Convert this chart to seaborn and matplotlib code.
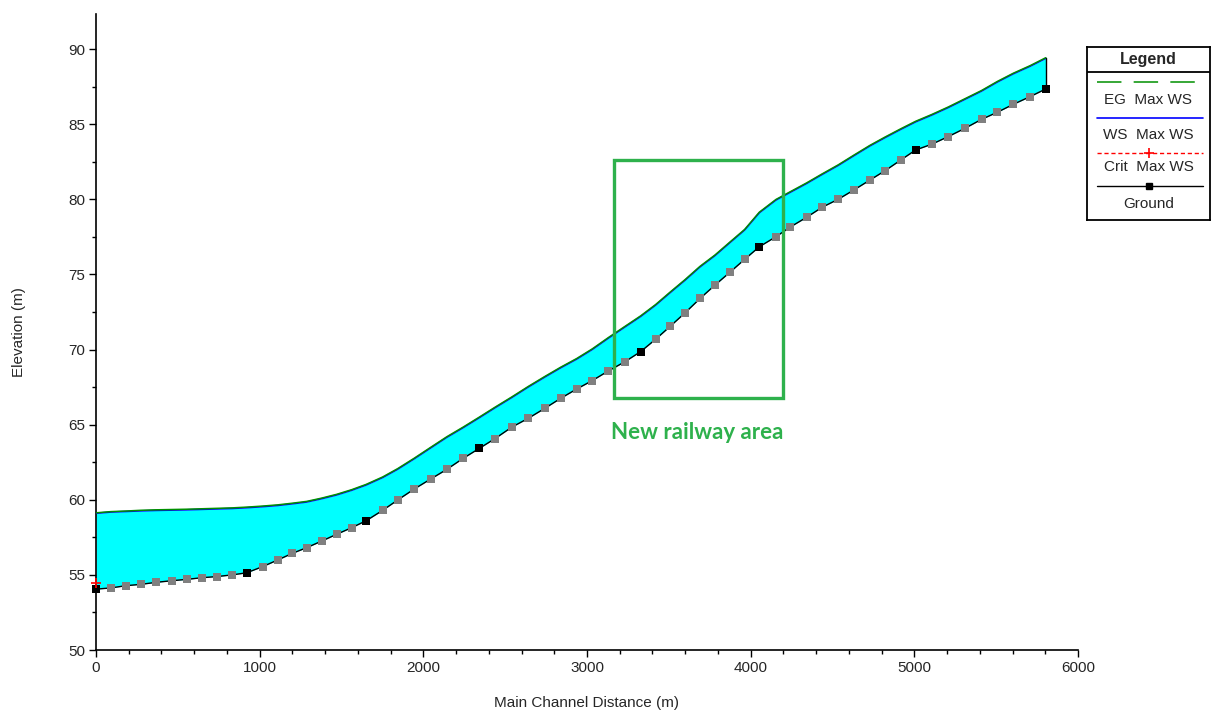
import matplotlib
matplotlib.use("Agg")
import matplotlib.pyplot as plt
from matplotlib.patches import Rectangle
from matplotlib.ticker import MultipleLocator
import seaborn as sns
import pandas as pd

# Main channel stations (m) of all cross sections, real and interpolated
station = [0, 90, 183, 275, 365, 462, 554, 646, 741, 833,
           921, 1018, 1110, 1199, 1287, 1379, 1470, 1562, 1650, 1752,
           1843, 1945, 2045, 2143, 2244, 2342, 2438, 2540, 2641, 2743,
           2839, 2937, 3032, 3130, 3232, 3328, 3419, 3510, 3600, 3691,
           3782, 3872, 3963, 4053, 4155, 4240, 4342, 4437, 4535, 4631,
           4729, 4821, 4917, 5008, 5106, 5207, 5309, 5411, 5507, 5605,
           5707, 5803]

# Channel invert (ground) elevation (m)
ground = [54.05, 54.13, 54.28, 54.37, 54.50, 54.61, 54.70, 54.81, 54.89, 55.00,
          55.14, 55.55, 55.99, 56.43, 56.81, 57.25, 57.70, 58.14, 58.60, 59.30,
          59.98, 60.72, 61.38, 62.02, 62.76, 63.42, 64.07, 64.83, 65.42, 66.09,
          66.75, 67.37, 67.93, 68.57, 69.19, 69.86, 70.68, 71.56, 72.45, 73.40,
          74.29, 75.13, 76.00, 76.84, 77.51, 78.14, 78.80, 79.47, 80.00, 80.62,
          81.28, 81.90, 82.61, 83.28, 83.66, 84.17, 84.72, 85.32, 85.79, 86.32,
          86.83, 87.34]

# Water surface, Max WS profile (m)
ws_max = [59.10, 59.18, 59.22, 59.26, 59.29, 59.31, 59.33, 59.36, 59.39, 59.42,
          59.47, 59.54, 59.62, 59.73, 59.85, 60.07, 60.32, 60.63, 60.98, 61.48,
          62.03, 62.73, 63.45, 64.15, 64.80, 65.46, 66.12, 66.80, 67.50, 68.17,
          68.78, 69.36, 70.00, 70.75, 71.50, 72.20, 72.95, 73.80, 74.62, 75.50,
          76.25, 77.10, 77.95, 79.10, 79.95, 80.45, 81.05, 81.65, 82.25, 82.90,
          83.55, 84.10, 84.65, 85.15, 85.60, 86.10, 86.65, 87.20, 87.80, 88.35,
          88.85, 89.38]

# Energy grade line, Max WS profile (m)
eg_max = [59.13, 59.21, 59.25, 59.30, 59.33, 59.35, 59.37, 59.40, 59.43, 59.46,
          59.51, 59.58, 59.66, 59.77, 59.89, 60.11, 60.36, 60.67, 61.02, 61.52,
          62.07, 62.77, 63.49, 64.19, 64.84, 65.50, 66.16, 66.84, 67.54, 68.21,
          68.82, 69.40, 70.04, 70.79, 71.54, 72.24, 72.99, 73.84, 74.66, 75.54,
          76.29, 77.14, 77.99, 79.14, 79.99, 80.49, 81.09, 81.69, 82.29, 82.94,
          83.59, 84.14, 84.69, 85.19, 85.64, 86.14, 86.69, 87.24, 87.84, 88.39,
          88.89, 89.42]

# Stations of the surveyed (non-interpolated) cross sections
surveyed = [0, 921, 1650, 2342, 3328, 4053, 5008, 5803]

# Critical depth, Max WS profile (only computed at the downstream section)
crit_station = [0]
crit_elev = [54.45]

# Highlighted reach
box_x = [3165, 4197]
box_z = [66.77, 82.61]
box_label = "New railway area"
box_label_pos = (3675, 64.45)

x_ticks = [0, 1000, 2000, 3000, 4000, 5000, 6000]
y_ticks = [50, 55, 60, 65, 70, 75, 80, 85, 90]

legend_items = ["EG  Max WS", "WS  Max WS", "Crit  Max WS", "Ground"]

profile = pd.DataFrame({"station": station, "ground": ground,
                        "ws": ws_max, "eg": eg_max})
profile["surveyed"] = profile["station"].isin(surveyed)

sns.set_style("ticks")
plt.rcParams["font.family"] = ["Liberation Sans", "DejaVu Sans"]

W, H = 1211, 711
fig = plt.figure(figsize=(W / 100, H / 100), dpi=100)
ax = fig.add_axes([96 / W, 61 / H, 982 / W, 636 / H])

# Flow area
ax.fill_between(profile["station"], profile["ground"], profile["ws"],
                color="#00FFFF", linewidth=0, zorder=1)

# Ground line and section markers
sns.lineplot(data=profile, x="station", y="ground", color="black",
             linewidth=1.0, sort=False, estimator=None, ax=ax, zorder=3)
sns.scatterplot(data=profile[~profile["surveyed"]], x="station", y="ground",
                marker="s", s=30, color="#808080", linewidth=0, ax=ax,
                zorder=4, clip_on=False)
sns.scatterplot(data=profile[profile["surveyed"]], x="station", y="ground",
                marker="s", s=38, color="black", linewidth=0, ax=ax,
                zorder=5, clip_on=False)

# Water surface and energy grade
sns.lineplot(data=profile, x="station", y="ws", color="#0000FF",
             linewidth=1.2, sort=False, estimator=None, ax=ax, zorder=6)
sns.lineplot(data=profile, x="station", y="eg", color="#009000",
             linewidth=1.1, sort=False, estimator=None, ax=ax, zorder=7)

# Upstream boundary closing line
ax.plot([station[-1], station[-1]], [ground[-1], ws_max[-1]],
        color="black", linewidth=1.0, zorder=6)

# Critical WS
ax.plot(crit_station, crit_elev, linestyle="none", marker="+", color="red",
        markersize=7, markeredgewidth=1.2, clip_on=False, zorder=8)

# Highlight box
green = "#2EB14C"
ax.add_patch(Rectangle((box_x[0], box_z[0]), box_x[1] - box_x[0],
                       box_z[1] - box_z[0], fill=False, edgecolor=green,
                       linewidth=2.4, zorder=9))
ax.text(box_label_pos[0], box_label_pos[1], box_label, ha="center",
        va="center", color=green, fontsize=16, fontweight="bold",
        family=["Lato", "DejaVu Sans"], zorder=9)

# Axes
ax.set_xlim(0, 6000)
ax.set_ylim(50, 92.33)
ax.set_xticks(x_ticks)
ax.set_yticks(y_ticks)
ax.xaxis.set_minor_locator(MultipleLocator(200))
ax.yaxis.set_minor_locator(MultipleLocator(2.5))
ax.tick_params(which="major", length=5, width=1.0, color="black",
               labelsize=11, pad=3)
ax.tick_params(which="minor", length=3, width=1.0, color="black")
for side in ["top", "right"]:
    ax.spines[side].set_visible(False)
for side in ["left", "bottom"]:
    ax.spines[side].set_linewidth(1.2)
    ax.spines[side].set_color("black")
ax.set_xlabel("Main Channel Distance (m)", fontsize=11, labelpad=15)
ax.set_ylabel("Elevation (m)", fontsize=11, labelpad=30)

# Legend panel
lg = fig.add_axes([1087 / W, 1 - 220 / H, 123 / W, 173 / H])
lg.set_xlim(0, 1)
lg.set_ylim(0, 1)
lg.set_xticks([])
lg.set_yticks([])
for s in lg.spines.values():
    s.set_linewidth(1.3)
    s.set_color("black")
lg.text(0.5, 0.925, "Legend", ha="center", va="center", fontsize=11.5,
        fontweight="bold")
lg.plot([0, 1], [0.855, 0.855], color="black", linewidth=1.3)

lx = [0.08, 0.94]
lg.plot(lx, [0.798, 0.798], color="#009000", linewidth=1.1,
        dashes=(16, 8))
lg.text(0.5, 0.694, legend_items[0], ha="center", va="center", fontsize=11)
lg.plot(lx, [0.590, 0.590], color="#0000FF", linewidth=1.2)
lg.text(0.5, 0.491, legend_items[1], ha="center", va="center", fontsize=11)
lg.plot(lx, [0.387, 0.387], color="red", linewidth=1.0, dashes=(3, 2))
lg.plot([0.5], [0.387], marker="+", color="red", markersize=7,
        markeredgewidth=1.2)
lg.text(0.5, 0.306, legend_items[2], ha="center", va="center", fontsize=11)
lg.plot(lx, [0.197, 0.197], color="black", linewidth=1.0)
lg.plot([0.5], [0.197], marker="s", color="black", markersize=5)
lg.text(0.5, 0.092, legend_items[3], ha="center", va="center", fontsize=11)

fig.savefig("out.png", dpi=100, facecolor="white")
